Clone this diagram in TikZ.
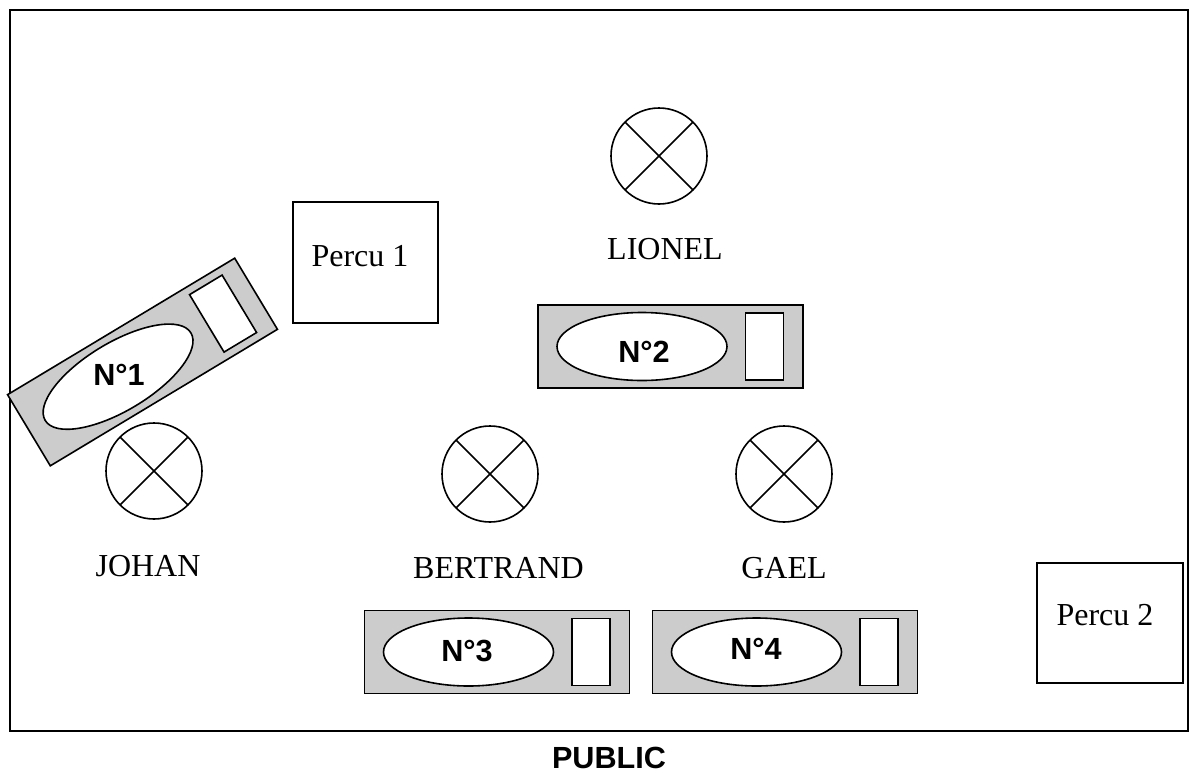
\documentclass[tikz,border=0pt]{standalone}
\usepackage{fontspec}
\setmainfont{Liberation Serif}
\setsansfont{Liberation Sans}
\definecolor{pupitregris}{gray}{0.8}
\tikzset{
  trait/.style={line width=1.6pt},
  nomtxt/.style={font=\fontsize{32}{34}\selectfont},
  numtxt/.style={font=\sffamily\bfseries\fontsize{30.6}{33}\selectfont}
}
\newcommand{\tete}[2]{%
  \draw[trait] (#1,#2) circle (48);
  \draw[trait] (#1,#2) ++(45:48) -- ++(225:96);
  \draw[trait] (#1,#2) ++(135:48) -- ++(315:96);
}
\newcommand{\pupitre}[3]{%
\begin{scope}[shift={(#1,#2)},rotate=#3]
\draw[trait,fill=pupitregris] (-132.5,-41.5) rectangle (132.5,41.5);
\draw[trait,fill=white] (-28.5,0) ellipse (85 and 34);
\draw[trait,fill=white] (75,-33.5) rectangle (113,33.5);
\end{scope}}
\begin{document}
\begin{tikzpicture}[x=1pt,y=-1pt,line cap=butt,line join=miter]
\useasboundingbox (0,0) rectangle (1200,772);
\draw[trait] (10,10) rectangle (1188,731);
\tete{659}{156}
\tete{154}{471}
\tete{490}{474}
\tete{784}{474}
\pupitre{670.5}{346.5}{0}
\pupitre{497}{652}{0}
\pupitre{785}{652}{0}
\pupitre{142.5}{362}{31}
\draw[trait] (293,202) rectangle (438,323);
\draw[trait] (1037,563) rectangle (1183,683);
\node[nomtxt] (percuA) at (360,256) {Percu 1};
\node[nomtxt] (percuB) at (1105,615) {Percu 2};
\node[nomtxt] (lionel) at (665,249) {LIONEL};
\node[nomtxt] (johan) at (148,566) {JOHAN};
\node[nomtxt] (bertrand) at (498.5,568) {BERTRAND};
\node[nomtxt] (gael) at (784,568) {GAEL};
\node[numtxt] (nA) at (119,375) {N°1};
\node[numtxt] (nB) at (644,352) {N°2};
\node[numtxt] (nC) at (467,651) {N°3};
\node[numtxt] (nD) at (756,649) {N°4};
\node[numtxt,inner sep=0pt] (public) at (609,757.5) {PUBLIC};
\end{tikzpicture}
\end{document}
